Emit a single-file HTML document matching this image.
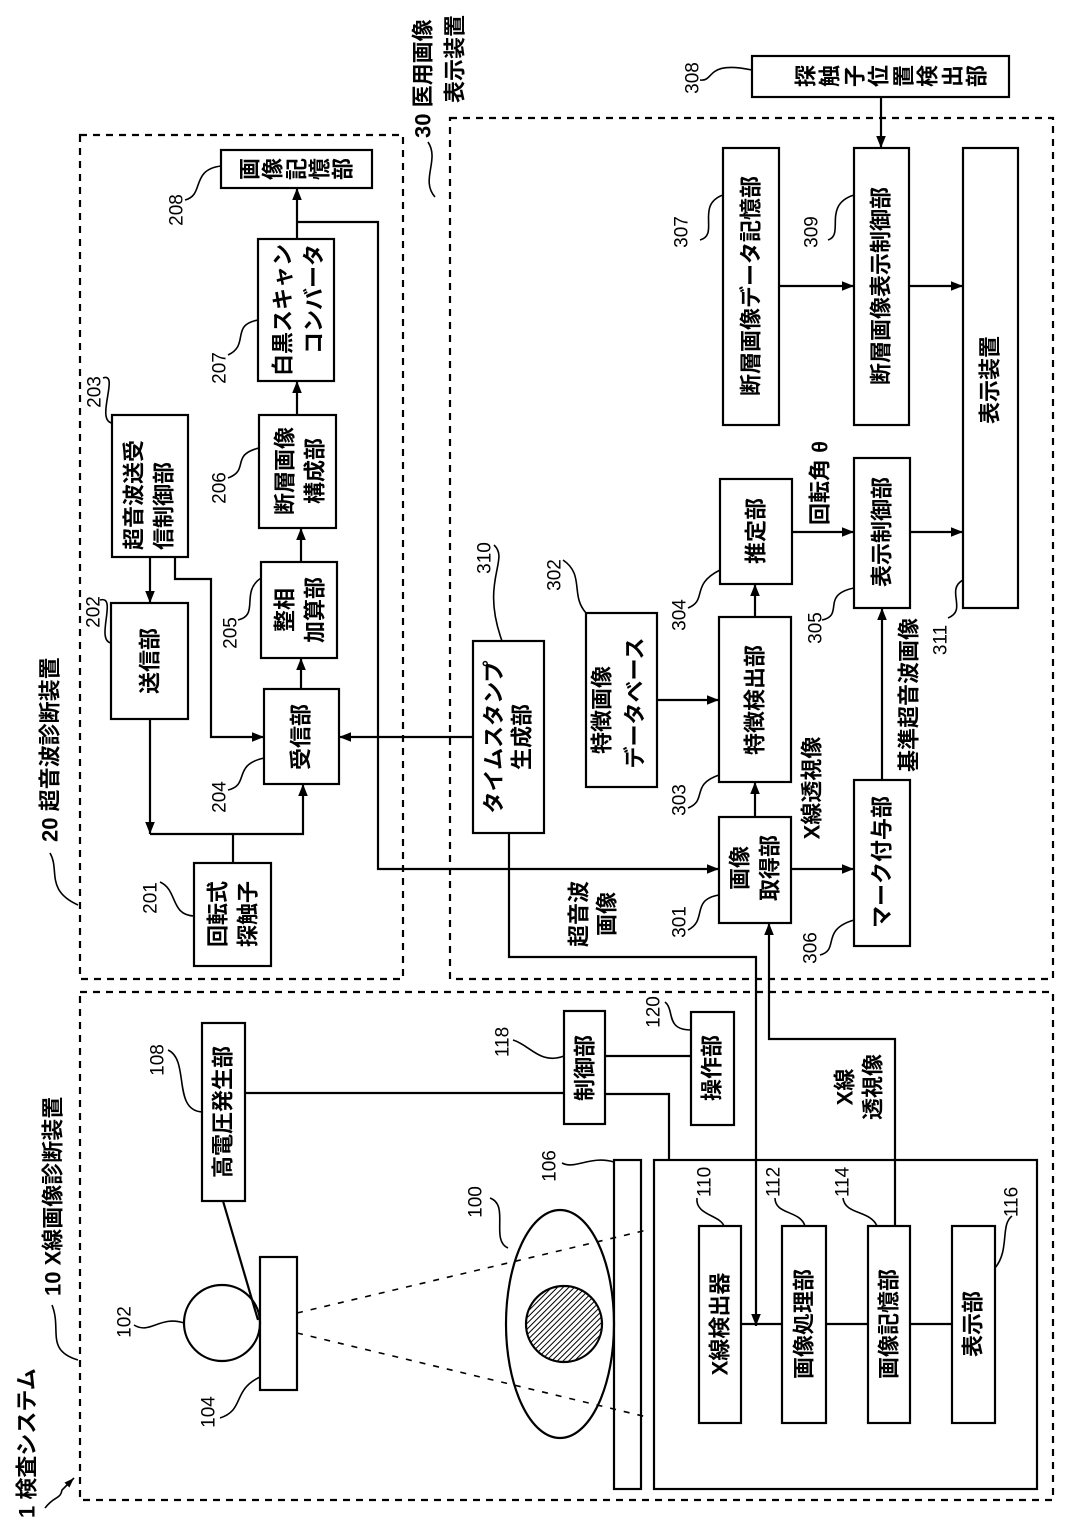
<!DOCTYPE html>
<html><head><meta charset="utf-8"><style>
html,body{margin:0;padding:0;background:#fff}
svg{display:block}
text{font-family:"Liberation Sans","Noto Sans CJK JP",sans-serif;fill:#000}
.b{font-size:22px;font-weight:600;text-anchor:middle;dominant-baseline:central}
.n{font-size:19px;text-anchor:middle;dominant-baseline:central}
.s{font-size:22px;font-weight:600;text-anchor:start;dominant-baseline:central}
</style></head><body>
<svg width="1071" height="1528" viewBox="0 0 1071 1528" xmlns="http://www.w3.org/2000/svg">
<defs>
<marker id="a" viewBox="0 0 10 10" refX="10" refY="5" markerWidth="10" markerHeight="10" markerUnits="userSpaceOnUse" orient="auto"><path d="M0,1.5 L10,5 L0,8.5 z" fill="#000"/></marker>
<marker id="a2" viewBox="0 0 10 10" refX="10" refY="5" markerWidth="16" markerHeight="12" markerUnits="userSpaceOnUse" orient="auto"><path d="M0,1 L10,5 L0,9 z" fill="#000"/></marker>
<pattern id="h" width="4" height="4" patternUnits="userSpaceOnUse" patternTransform="rotate(45)"><rect width="4" height="4" fill="#fff"/><line x1="0" y1="0" x2="0" y2="4" stroke="#000" stroke-width="2"/></pattern>
</defs>
<g fill="none" stroke="#000" stroke-width="2.2">
<rect x="80" y="135" width="323" height="844" stroke-dasharray="7,6"/>
<rect x="450" y="118" width="603" height="861" stroke-dasharray="7,6"/>
<rect x="80" y="992" width="973" height="508" stroke-dasharray="7,6"/>
<rect x="221" y="150" width="151" height="38"/>
<rect x="258" y="239" width="76" height="142"/>
<rect x="112" y="415" width="76" height="142"/>
<rect x="259" y="415" width="77" height="113"/>
<rect x="261" y="562" width="76" height="96"/>
<rect x="111" y="603" width="77" height="116"/>
<rect x="264" y="689" width="75" height="95"/>
<rect x="194" y="863" width="77" height="103"/>
<rect x="473" y="641" width="71" height="192"/>
<rect x="752" y="56" width="257" height="41"/>
<rect x="723" y="148" width="56" height="277"/>
<rect x="854" y="148" width="55" height="277"/>
<rect x="963" y="148" width="55" height="460"/>
<rect x="586" y="613" width="71" height="174"/>
<rect x="720" y="479" width="72" height="105"/>
<rect x="719" y="617" width="72" height="165"/>
<rect x="719" y="817" width="72" height="106"/>
<rect x="854" y="458" width="56" height="150"/>
<rect x="854" y="780" width="56" height="166"/>
<rect x="202" y="1023" width="43" height="178"/>
<rect x="564" y="1011" width="41" height="113"/>
<rect x="691" y="1012" width="43" height="113"/>
<circle cx="222" cy="1323" r="38"/>
<rect x="260" y="1257" width="37" height="133"/>
<ellipse cx="560" cy="1324" rx="54" ry="114"/>
<circle cx="564" cy="1324" r="38" fill="url(#h)"/>
<rect x="614" y="1160" width="27" height="329"/>
<rect x="654" y="1160" width="383" height="329"/>
<rect x="699" y="1226" width="42" height="197"/>
<rect x="782" y="1226" width="44" height="197"/>
<rect x="868" y="1226" width="42" height="197"/>
<rect x="952" y="1226" width="43" height="197"/>
<path d="M297,1313 L647,1230 M297,1333 L647,1417" stroke-dasharray="6,8" stroke-width="1.6"/>
<path d="M297,239 V188" marker-end="url(#a2)"/>
<path d="M297,222 H378 V869 H719" marker-end="url(#a2)"/>
<path d="M297,415 V381" marker-end="url(#a2)"/>
<path d="M301,562 V528" marker-end="url(#a2)"/>
<path d="M301,689 V658" marker-end="url(#a2)"/>
<path d="M150,557 V603" marker-end="url(#a2)"/>
<path d="M175,557 V579 H211 V737 H264" marker-end="url(#a2)"/>
<path d="M150,719 V834" marker-end="url(#a2)"/>
<path d="M150,834 H303 V784" marker-end="url(#a2)"/>
<path d="M233,863 V834"/>
<path d="M473,737 H339" marker-end="url(#a2)"/>
<path d="M509,833 V957 H756 V1326" marker-end="url(#a2)"/>
<path d="M881,97 V148" marker-end="url(#a2)"/>
<path d="M779,286 H854" marker-end="url(#a2)"/>
<path d="M909,286 H963" marker-end="url(#a2)"/>
<path d="M657,700 H719" marker-end="url(#a2)"/>
<path d="M755,617 V584" marker-end="url(#a2)"/>
<path d="M755,817 V782" marker-end="url(#a2)"/>
<path d="M792,532 H854" marker-end="url(#a2)"/>
<path d="M910,532 H963" marker-end="url(#a2)"/>
<path d="M791,869 H854" marker-end="url(#a2)"/>
<path d="M882,780 V608" marker-end="url(#a2)"/>
<path d="M895,1226 V1039 H769 V923" marker-end="url(#a2)"/>
<path d="M245,1093 H564"/>
<path d="M223,1201 L258,1320"/>
<path d="M605,1056 H691"/>
<path d="M605,1094 H669 V1160"/>
<path d="M741,1324 H782 M826,1324 H868 M910,1324 H952"/>
<g stroke-width="1.6">
<path d="M185,200 C205,195 190,170 221,166"/>
<path d="M228,355 C250,345 230,325 258,320"/>
<path d="M103,378 C120,372 95,420 112,423"/>
<path d="M228,478 C250,470 230,455 259,448"/>
<path d="M238,620 C260,615 240,592 261,578"/>
<path d="M100,600 C118,595 95,640 111,643"/>
<path d="M228,790 C250,785 232,765 264,758"/>
<path d="M160,882 C178,890 170,915 194,916"/>
<path d="M494,545 C510,560 480,580 502,641"/>
<path d="M563,560 C585,575 570,595 586,613"/>
<path d="M688,608 C708,600 690,585 720,570"/>
<path d="M688,808 C708,800 690,785 719,775"/>
<path d="M688,930 C708,920 690,900 719,895"/>
<path d="M822,620 C845,615 820,595 854,588"/>
<path d="M820,955 C840,950 820,930 854,920"/>
<path d="M948,618 C968,610 945,590 963,580"/>
<path d="M700,80 C715,82 705,60 752,70"/>
<path d="M700,240 C720,235 695,205 723,195"/>
<path d="M828,240 C845,235 822,205 854,195"/>
<path d="M168,1050 C190,1060 172,1110 202,1112"/>
<path d="M134,1325 C150,1335 160,1315 184,1323"/>
<path d="M220,1418 C245,1410 232,1390 260,1377"/>
<path d="M490,1198 C510,1205 490,1240 508,1248"/>
<path d="M513,1040 C530,1045 540,1065 564,1056"/>
<path d="M665,1002 C675,1010 665,1030 691,1030"/>
<path d="M562,1163 C575,1170 590,1155 614,1162"/>
<path d="M697,1198 C695,1215 720,1215 724,1226"/>
<path d="M775,1198 C775,1215 800,1210 805,1226"/>
<path d="M843,1198 C845,1215 870,1210 877,1226"/>
<path d="M1012,1216 C1000,1225 1010,1250 995,1268"/>
<path d="M50,853 C60,870 45,890 78,905"/>
<path d="M52,1305 C62,1330 45,1350 78,1360"/>
<path d="M428,142 C440,160 420,180 435,197"/>
</g>
<path d="M45,1508 C55,1495 60,1500 62,1490 L74,1478" stroke-width="1.6" marker-end="url(#a)"/>
</g>
<g>
<text class="b" x="250" y="169" transform="rotate(-90 250 169)">画</text>
<text class="b" x="273" y="169" transform="rotate(-90 273 169)">像</text>
<text class="b" x="297" y="169" transform="rotate(-90 297 169)">記</text>
<text class="b" x="320" y="169" transform="rotate(-90 320 169)">憶</text>
<text class="b" x="343" y="169" transform="rotate(-90 343 169)">部</text>
<text class="b" x="806" y="76" transform="rotate(-90 806 76)">探</text>
<text class="b" x="830" y="76" transform="rotate(-90 830 76)">触</text>
<text class="b" x="855" y="76" transform="rotate(-90 855 76)">子</text>
<text class="b" x="879" y="76" transform="rotate(-90 879 76)">位</text>
<text class="b" x="904" y="76" transform="rotate(-90 904 76)">置</text>
<text class="b" x="928" y="76" transform="rotate(-90 928 76)">検</text>
<text class="b" x="953" y="76" transform="rotate(-90 953 76)">出</text>
<text class="b" x="977" y="76" transform="rotate(-90 977 76)">部</text>

<text class="s" x="283" y="376" transform="rotate(-90 283 376)">白黒スキャン</text>
<text class="s" x="314" y="376" transform="rotate(-90 314 376)">　コンバータ</text>
<text class="s" x="134" y="550" transform="rotate(-90 134 550)">超音波送受</text>
<text class="s" x="164" y="550" transform="rotate(-90 164 550)">信制御部</text>
<text class="b" x="285" y="471" transform="rotate(-90 285 471)">断層画像</text>
<text class="b" x="315" y="471" transform="rotate(-90 315 471)">構成部</text>
<text class="b" x="285" y="610" transform="rotate(-90 285 610)">整相</text>
<text class="b" x="315" y="610" transform="rotate(-90 315 610)">加算部</text>
<text class="b" x="150" y="661" transform="rotate(-90 150 661)">送信部</text>
<text class="b" x="301" y="737" transform="rotate(-90 301 737)">受信部</text>
<text class="b" x="218" y="914" transform="rotate(-90 218 914)">回転式</text>
<text class="b" x="248" y="914" transform="rotate(-90 248 914)">探触子</text>
<text class="b" x="494" y="737" transform="rotate(-90 494 737)">タイムスタンプ</text>
<text class="b" x="522" y="737" transform="rotate(-90 522 737)">生成部</text>
<text class="b" x="602" y="710" transform="rotate(-90 602 710)">特徴画像</text>
<text class="b" x="635" y="703" transform="rotate(-90 635 703)">データベース</text>
<text class="b" x="755" y="700" transform="rotate(-90 755 700)">特徴検出部</text>
<text class="b" x="756" y="531" transform="rotate(-90 756 531)">推定部</text>
<text class="b" x="740" y="868" transform="rotate(-90 740 868)">画像</text>
<text class="b" x="770" y="868" transform="rotate(-90 770 868)">取得部</text>
<text class="b" x="882" y="862" transform="rotate(-90 882 862)">マーク付与部</text>
<text class="b" x="882" y="532" transform="rotate(-90 882 532)">表示制御部</text>
<text class="b" x="990" y="380" transform="rotate(-90 990 380)">表示装置</text>
<text class="b" x="751" y="286" transform="rotate(-90 751 286)">断層画像データ記憶部</text>
<text class="b" x="881" y="286" transform="rotate(-90 881 286)">断層画像表示制御部</text>
<text class="b" x="223" y="1112" transform="rotate(-90 223 1112)">高電圧発生部</text>
<text class="b" x="585" y="1068" transform="rotate(-90 585 1068)">制御部</text>
<text class="b" x="712" y="1068" transform="rotate(-90 712 1068)">操作部</text>
<text class="b" x="720" y="1324" transform="rotate(-90 720 1324)">X線検出器</text>
<text class="b" x="804" y="1324" transform="rotate(-90 804 1324)">画像処理部</text>
<text class="b" x="889" y="1324" transform="rotate(-90 889 1324)">画像記憶部</text>
<text class="b" x="973" y="1324" transform="rotate(-90 973 1324)">表示部</text>

<text class="b" x="812" y="788" transform="rotate(-90 812 788)">X線透視像</text>
<text class="b" x="909" y="695" transform="rotate(-90 909 695)">基準超音波画像</text>
<text class="b" x="820" y="483" transform="rotate(-90 820 483)">回転角 θ</text>
<text class="b" x="579" y="914" transform="rotate(-90 579 914)">超音波</text>
<text class="b" x="607" y="914" transform="rotate(-90 607 914)">画像</text>
<text class="b" x="845" y="1087" transform="rotate(-90 845 1087)">X線</text>
<text class="b" x="873" y="1087" transform="rotate(-90 873 1087)">透視像</text>

<text class="s" x="423" y="138" transform="rotate(-90 423 138)">30 医用画像</text>
<text class="s" x="455" y="103" transform="rotate(-90 455 103)">表示装置</text>
<text class="s" x="50" y="842" transform="rotate(-90 50 842)">20 超音波診断装置</text>
<text class="s" x="53" y="1296" transform="rotate(-90 53 1296)">10 X線画像診断装置</text>
<text class="s" x="27" y="1518" transform="rotate(-90 27 1518)">1 検査システム</text>
</g>
<g>
<text class="n" x="177" y="210" transform="rotate(-90 177 210)">208</text>
<text class="n" x="220" y="368" transform="rotate(-90 220 368)">207</text>
<text class="n" x="95" y="392" transform="rotate(-90 95 392)">203</text>
<text class="n" x="220" y="488" transform="rotate(-90 220 488)">206</text>
<text class="n" x="231" y="633" transform="rotate(-90 231 633)">205</text>
<text class="n" x="94" y="612" transform="rotate(-90 94 612)">202</text>
<text class="n" x="220" y="797" transform="rotate(-90 220 797)">204</text>
<text class="n" x="151" y="898" transform="rotate(-90 151 898)">201</text>
<text class="n" x="485" y="558" transform="rotate(-90 485 558)">310</text>
<text class="n" x="555" y="575" transform="rotate(-90 555 575)">302</text>
<text class="n" x="680" y="615" transform="rotate(-90 680 615)">304</text>
<text class="n" x="680" y="800" transform="rotate(-90 680 800)">303</text>
<text class="n" x="680" y="922" transform="rotate(-90 680 922)">301</text>
<text class="n" x="816" y="628" transform="rotate(-90 816 628)">305</text>
<text class="n" x="811" y="948" transform="rotate(-90 811 948)">306</text>
<text class="n" x="941" y="640" transform="rotate(-90 941 640)">311</text>
<text class="n" x="682" y="232" transform="rotate(-90 682 232)">307</text>
<text class="n" x="812" y="232" transform="rotate(-90 812 232)">309</text>
<text class="n" x="693" y="78" transform="rotate(-90 693 78)">308</text>
<text class="n" x="158" y="1060" transform="rotate(-90 158 1060)">108</text>
<text class="n" x="503" y="1042" transform="rotate(-90 503 1042)">118</text>
<text class="n" x="654" y="1012" transform="rotate(-90 654 1012)">120</text>
<text class="n" x="476" y="1202" transform="rotate(-90 476 1202)">100</text>
<text class="n" x="125" y="1322" transform="rotate(-90 125 1322)">102</text>
<text class="n" x="209" y="1412" transform="rotate(-90 209 1412)">104</text>
<text class="n" x="550" y="1166" transform="rotate(-90 550 1166)">106</text>
<text class="n" x="705" y="1182" transform="rotate(-90 705 1182)">110</text>
<text class="n" x="774" y="1182" transform="rotate(-90 774 1182)">112</text>
<text class="n" x="843" y="1182" transform="rotate(-90 843 1182)">114</text>
<text class="n" x="1012" y="1202" transform="rotate(-90 1012 1202)">116</text>
</g>
</svg>
</body></html>
